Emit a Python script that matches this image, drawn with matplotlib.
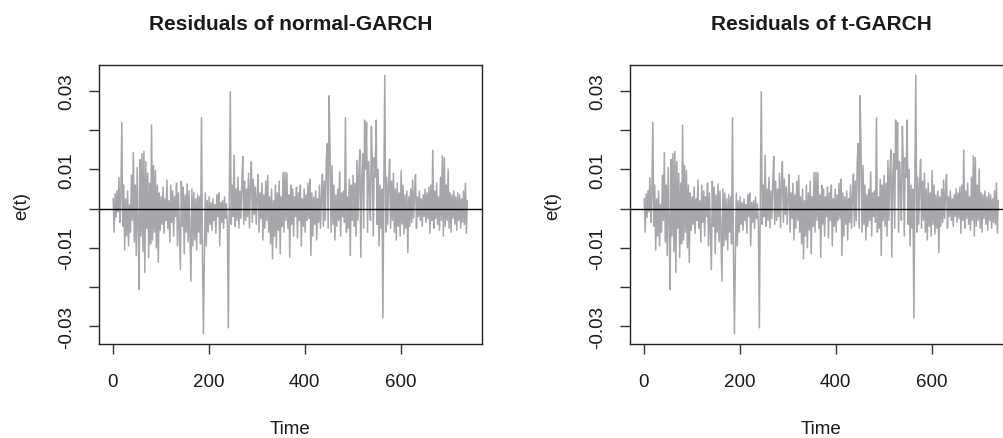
import matplotlib.pyplot as plt
import numpy as np

plt.rcParams["font.family"] = ["Liberation Sans", "DejaVu Sans"]

# residuals, one value every 2 time steps (t = 1, 3, ..., 739)
resid_norm = [
    0.0025, -0.0060, 0.0038, -0.0022, 0.0046, -0.0008, 0.0079, -0.0035, 0.0030, 0.0220,
    -0.0045, 0.0060, -0.0105, 0.0025, -0.0070, 0.0045, -0.0095, 0.0010, -0.0060, 0.0085,
    -0.0030, 0.0143, -0.0085, 0.0060, -0.0120, 0.0105, -0.0040, -0.0206, 0.0125, -0.0070,
    0.0140, -0.0110, 0.0146, -0.0163, 0.0120, -0.0050, 0.0090, -0.0125, 0.0065, -0.0090,
    0.0213, -0.0080, 0.0110, -0.0060, 0.0097, -0.0100, 0.0060, -0.0137, 0.0040, -0.0055,
    0.0030, -0.0040, 0.0055, -0.0063, 0.0025, -0.0030, 0.0073, -0.0050, 0.0020, -0.0085,
    0.0060, -0.0035, 0.0045, -0.0070, 0.0030, -0.0020, 0.0065, -0.0095, 0.0040, -0.0060,
    -0.0155, 0.0070, -0.0045, 0.0055, -0.0115, 0.0035, -0.0060, 0.0063, -0.0085, 0.0045,
    -0.0070, -0.0185, 0.0050, -0.0095, 0.0040, -0.0080, 0.0025, -0.0105, 0.0035, -0.0060,
    0.0030, -0.0090, 0.0232, -0.0110, -0.0319, -0.0125, 0.0040, -0.0095, 0.0020, -0.0060,
    0.0030, -0.0040, 0.0015, -0.0055, 0.0025, -0.0030, 0.0010, -0.0063, 0.0035, -0.0020,
    0.0040, -0.0094, 0.0015, -0.0035, 0.0020, -0.0050, 0.0030, -0.0025, 0.0012, -0.0040,
    -0.0304, 0.0030, 0.0298, -0.0040, 0.0060, -0.0020, 0.0136, -0.0045, 0.0050, -0.0030,
    0.0080, -0.0049, 0.0045, -0.0025, 0.0065, 0.0133, -0.0040, 0.0070, -0.0030, 0.0050,
    -0.0020, 0.0090, -0.0049, 0.0060, 0.0120, -0.0035, 0.0075, -0.0015, 0.0055, -0.0040,
    0.0030, 0.0087, -0.0060, 0.0040, -0.0025, 0.0065, -0.0080, 0.0035, -0.0050, 0.0070,
    -0.0030, 0.0085, -0.0060, 0.0030, -0.0090, 0.0050, -0.0128, 0.0020, -0.0070, 0.0060,
    -0.0100, 0.0040, -0.0055, 0.0070, -0.0115, 0.0030, -0.0045, 0.0092, -0.0060, 0.0093,
    -0.0030, 0.0091, -0.0050, 0.0035, -0.0124, 0.0060, -0.0040, 0.0050, -0.0070, 0.0030,
    -0.0020, 0.0055, -0.0075, 0.0040, -0.0030, 0.0060, -0.0095, 0.0025, -0.0045, 0.0050,
    -0.0060, 0.0035, -0.0030, 0.0065, -0.0025, 0.0075, -0.0120, 0.0040, -0.0070, 0.0030,
    -0.0040, 0.0045, -0.0080, 0.0025, -0.0035, 0.0060, -0.0050, 0.0030, 0.0088, -0.0045,
    0.0070, -0.0030, 0.0120, 0.0166, -0.0050, 0.0288, 0.0140, -0.0060, 0.0110, -0.0040,
    0.0060, -0.0080, 0.0035, -0.0045, 0.0050, -0.0030, 0.0094, -0.0070, 0.0040, -0.0020,
    0.0045, -0.0035, 0.0232, -0.0060, 0.0030, -0.0050, 0.0075, -0.0120, 0.0060, -0.0030,
    0.0085, -0.0045, 0.0065, -0.0070, 0.0123, -0.0030, 0.0090, 0.0150, -0.0124, 0.0080,
    0.0140, -0.0050, 0.0226, 0.0100, 0.0220, -0.0060, 0.0120, 0.0060, -0.0030, 0.0210,
    0.0110, -0.0070, 0.0130, 0.0080, 0.0226, -0.0040, 0.0100, -0.0095, 0.0060, -0.0050,
    0.0050, -0.0279, 0.0070, 0.0340, -0.0060, 0.0080, -0.0040, 0.0060, 0.0126, -0.0050,
    0.0070, -0.0030, 0.0090, -0.0060, 0.0050, -0.0080, 0.0065, -0.0045, 0.0040, -0.0070,
    0.0097, -0.0040, 0.0060, -0.0065, 0.0035, -0.0050, 0.0045, -0.0112, 0.0030, -0.0045,
    0.0050, -0.0035, 0.0073, -0.0025, 0.0040, 0.0087, -0.0050, 0.0030, -0.0020, 0.0045,
    -0.0030, 0.0025, -0.0045, 0.0035, -0.0020, 0.0050, -0.0035, 0.0040, -0.0025, 0.0055,
    -0.0063, 0.0060, -0.0030, 0.0149, -0.0050, 0.0045, -0.0025, 0.0065, -0.0040, 0.0030,
    -0.0055, 0.0080, -0.0030, 0.0134, -0.0070, 0.0130, -0.0045, 0.0060, -0.0030, 0.0101,
    -0.0050, 0.0040, -0.0060, 0.0035, -0.0025, 0.0045, -0.0040, 0.0030, -0.0055, 0.0040,
    -0.0030, 0.0035, -0.0050, 0.0025, -0.0035, 0.0045, -0.0040, 0.0065, -0.0063, 0.0020,
]
# the t-GARCH residuals are indistinguishable from the normal ones at this scale
resid_t = list(resid_norm)

time = np.arange(1, 2 * len(resid_norm), 2)
n_obs = 740

titles = ["Residuals of normal-GARCH", "Residuals of t-GARCH"]
xticks = [0, 200, 400, 600]
yticks = [-0.03, -0.02, -0.01, 0.0, 0.01, 0.02, 0.03]
yticklabels = ["-0.03", "", "-0.01", "", "0.01", "", "0.03"]

W, H = 1004, 439
fig = plt.figure(figsize=(W / 100, H / 100), dpi=100)

# panel boxes in pixels: left, bottom, width, height
boxes = [(99, 94, 383, 279), (630, 94, 383, 279)]

for (l, b, w, h), title, resid in zip(boxes, titles, [resid_norm, resid_t]):
    ax = fig.add_axes([l / W, b / H, w / W, h / H])
    ax.plot(time, resid, color="#a7a7ab", lw=1.1)
    ax.axhline(0, color="black", lw=1.0)

    # R style 4% padding
    pad_x = 0.04 * (n_obs - 1)
    ax.set_xlim(1 - pad_x, n_obs + pad_x)
    lo, hi = min(resid), max(resid)
    pad_y = 0.04 * (hi - lo)
    ax.set_ylim(lo - pad_y, hi + pad_y)

    ax.set_xticks(xticks)
    ax.set_xticklabels([str(t) for t in xticks])
    ax.set_yticks(yticks)
    ax.set_yticklabels(yticklabels, rotation=90, va="center")
    ax.tick_params(direction="out", length=7.2, width=1.0, labelsize=13.5,
                   color="#333333", labelcolor="#1a1a1a")
    ax.tick_params(axis="x", pad=13.5)
    ax.tick_params(axis="y", pad=10)

    for s in ax.spines.values():
        s.set_linewidth(1.0)
        s.set_color("#222222")

    ax.set_title(title, fontsize=15, fontweight="bold", pad=26, color="#1a1a1a")
    ax.set_xlabel("Time", fontsize=13.5, va="center", color="#1a1a1a")
    ax.xaxis.set_label_coords(0.5, -(430 - 345) / h)
    ax.set_ylabel("e(t)", fontsize=13.5, va="center", color="#1a1a1a")
    ax.yaxis.set_label_coords(-(99 - 22) / w, 0.5)

plt.savefig("out.png", dpi=100)
